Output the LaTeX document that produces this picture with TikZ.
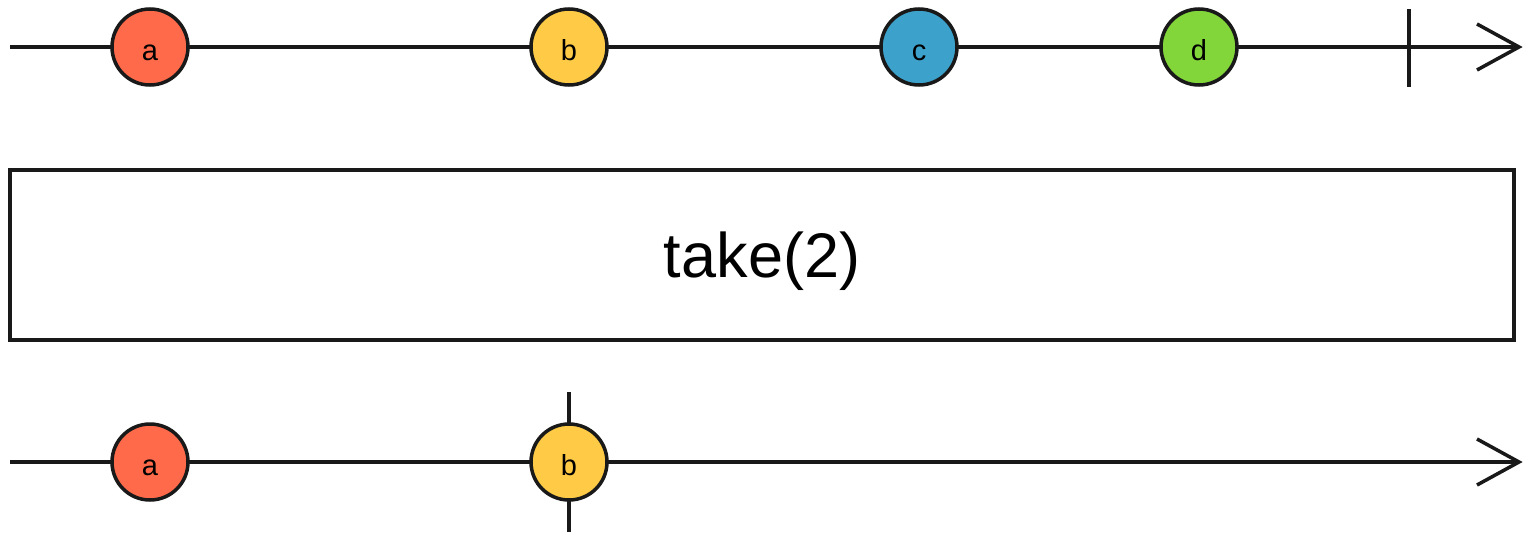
\documentclass[tikz,border=0pt]{standalone}
\usepackage{fontspec}
\setmainfont{Liberation Sans}
\definecolor{marbleA}{HTML}{FF6A4A}
\definecolor{marbleB}{HTML}{FFCB47}
\definecolor{marbleC}{HTML}{3DA2CB}
\definecolor{marbleD}{HTML}{82D63A}
\begin{document}
\begin{tikzpicture}[x=1pt,y=-1pt,line cap=butt,
  marble/.style={circle,draw=black!90,line width=3.5pt,minimum size=76pt,inner sep=0pt,
    text height=26pt,text depth=0pt,font=\fontsize{29}{30}\selectfont},
  timeline/.style={draw=black!90,line width=3.5pt},
  tip/.style={draw=black!90,line width=3.5pt,line join=miter},
  opbox/.style={draw=black!90,line width=3.5pt,minimum width=1504pt,minimum height=170pt,
    inner sep=0pt},
  optext/.style={inner sep=0pt,font=\fontsize{63}{66}\selectfont}]
  \useasboundingbox (0,0) rectangle (1523,533);
  % input stream
  \coordinate (in0) at (10,47);
  \coordinate (in1) at (1519,47);
  \coordinate (inT) at (1477,24);
  \coordinate (inB) at (1477,70);
  \coordinate (inEt) at (1409,9);
  \coordinate (inEb) at (1409,87);
  \draw[timeline] (in0) -- (in1);
  \draw[tip] (inT) -- (in1) -- (inB);
  \draw[timeline] (inEt) -- (inEb);
  \node[marble,fill=marbleA] (ia) at (150,47) {a};
  \node[marble,fill=marbleB] (ib) at (569,47) {b};
  \node[marble,fill=marbleC] (ic) at (919,47) {c};
  \node[marble,fill=marbleD] (id) at (1199,47) {d};
  % operator
  \node[opbox] (op) at (762,255) {};
  \node[optext] (opname) at (762,261) {take(2)};
  % output stream
  \coordinate (out0) at (10,462);
  \coordinate (out1) at (1519,462);
  \coordinate (outT) at (1477,439);
  \coordinate (outB) at (1477,485);
  \coordinate (outEt) at (569,392);
  \coordinate (outEb) at (569,532);
  \draw[timeline] (out0) -- (out1);
  \draw[tip] (outT) -- (out1) -- (outB);
  \draw[timeline] (outEt) -- (outEb);
  \node[marble,fill=marbleA] (oa) at (150,462) {a};
  \node[marble,fill=marbleB] (ob) at (569,462) {b};
\end{tikzpicture}
\end{document}
